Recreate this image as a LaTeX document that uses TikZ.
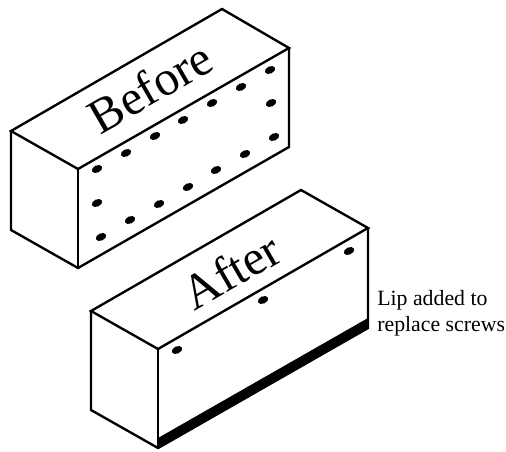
\documentclass[tikz,border=0pt]{standalone}
\usepackage{fontspec}
\setmainfont{Liberation Serif}
\tikzset{
    box/.style = {line width = 1.35pt, line join = miter},
    hole/.style = {fill = black},
    title/.style = {font = \fontsize{28}{28}\selectfont, inner sep = 0pt, rotate = 30},
    note/.style = {font = \fontsize{12.4}{15}\selectfont, align = left, anchor = west, inner sep = 0pt}
}
\begin{document}
\begin{tikzpicture}[x = 0.02cm, y = -0.02cm]
    \useasboundingbox (0, 0) rectangle (506, 452);
    % before
    \draw[box] (11, 131) 
    -- (222, 9) 
    -- (289, 48) 
    -- (78, 169) 
    -- cycle
    ;
    \draw[box] (11, 131) 
    -- (11, 230) 
    -- (78, 268) 
    -- (289, 147) 
    -- (289, 48)
    ;
    \draw[box] (78, 169) -- (78, 268);
    \foreach \x/\y in {97/169, 126/153, 155/136, 183/120, 212/103, 241/87, 270/70,
        271/103, 274/137, 245/154, 216/170, 188/187, 159/204, 130/220, 101/237, 97/203}
        \fill[hole, shift = {(\x, \y)}, rotate = 25] (0, 0) ellipse (5.5 and 3.6);
    \node[title] (before) at (150, 87) {Before};
    % after
    \fill (158, 438) -- (368, 318) -- (368, 328) -- (158, 449) -- cycle;
    \draw[box] (91, 311) 
    -- (301, 190) 
    -- (368, 228) 
    -- (158, 349) 
    -- cycle
    ;
    \draw[box] (91, 311) 
    -- (91, 410) 
    -- (158, 448) 
    -- (368, 328) 
    -- (368, 228)
    ;
    \draw[box] (158, 349) -- (158, 448);
    \foreach \x/\y in {177/350, 263/300, 349/251}
        \fill[hole, shift = {(\x, \y)}, rotate = 25] (0, 0) ellipse (5.5 and 3.6);
    \node[title] (after) at (231, 271) {After};
    \node[note] (lip) at (377, 313) {Lip added to\\replace screws};
\end{tikzpicture}
\end{document}
